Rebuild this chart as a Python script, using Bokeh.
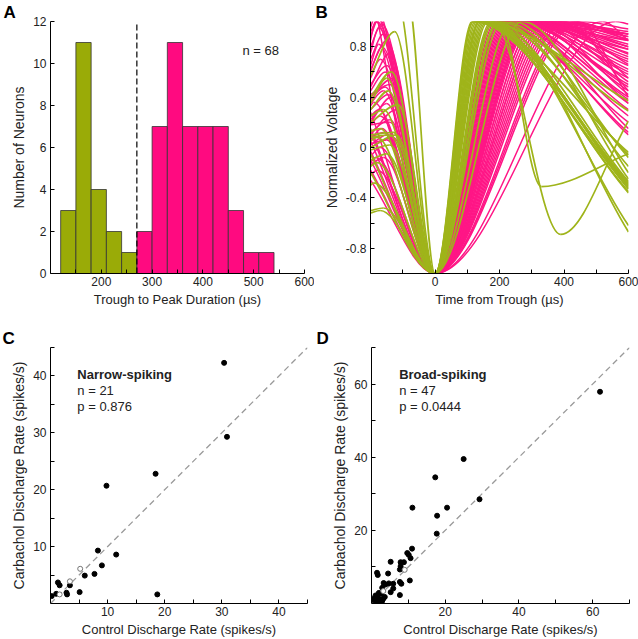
from bokeh.plotting import figure
from bokeh.models import FixedTicker, CustomJSTickFormatter, Label, ColumnDataSource
from bokeh.layouts import column, row
from bokeh.embed import file_html
from bokeh.resources import INLINE

# ---------------- Panel A: trough-to-peak duration histogram ----------------
narrow_bin_edges = [120, 150, 180, 210, 240, 270]
narrow_counts = [3, 11, 4, 2, 1]
broad_bin_edges = [270, 300, 330, 360, 390, 420, 450, 480, 510, 540]
broad_counts = [2, 7, 11, 7, 7, 7, 3, 1, 1]
cutoff_us = 270
n_total = 68

# ---------------- Panel B: normalized waveforms (key points) ----
T_START, T_END, TROUGH, PEAK = -200.0, 600.0, -1.0, 1.0

narrow_start_v = [-0.50, -0.52, -0.20, -0.10, -0.02, 0.10, 0.00, 0.20, 0.57, 0.35, 1.20,
                  1.20, 0.05, 0.13, -0.05, 0.25, -0.15, 0.08, 0.40, 0.30, -0.30]
narrow_knee_t = [-160, -170, -200, -150, -140, -130, -120, -115, -125, -150, -120,
                 -85, -180, -170, -200, -160, -180, -140, -135, -145, -190]
narrow_knee_v = [-0.48, -0.50, -0.20, -0.05, 0.02, 0.12, 0.10, 0.34, 0.92, 0.55, 1.20,
                 1.20, 0.08, 0.15, -0.05, 0.30, -0.12, 0.10, 0.60, 0.45, -0.28]
narrow_peak_t = [130, 150, 120, 140, 160, 125, 175, 145, 165, 185, 135,
                 115, 200, 180, 118, 138, 155, 195, 210, 240, 270]
narrow_dip_t = [None, None, None, None, None, None, None, None, None, None, None,
                None, 330, 390, None, None, None, None, None, None, None]
narrow_dip_v = [None, None, None, None, None, None, None, None, None, None, None,
                None, -0.31, -0.69, None, None, None, None, None, None, None]
narrow_end_v = [-0.30, -0.33, -0.35, -0.29, -0.27, -0.36, -0.06, -0.31, -0.62, -0.67, -0.28,
                -0.32, -0.05, 0.21, -0.04, 0.37, 0.29, -0.15, -0.08, -0.25, -0.20]

broad_start_v = [0.88, 0.80, 0.95, 0.70, 0.62, 0.55, 0.48, 0.45, 0.40, 0.35, 0.30, 0.28,
                 0.22, 0.18, 0.15, 0.12, 0.10, 0.08, 0.05, 0.02, 0.00, -0.03, -0.07, -0.10,
                 -0.14, -0.18, -0.22, -0.26, 1.10, 1.30, 0.92, 0.75, 0.60, 0.50, 0.42, 0.33,
                 0.25, 0.20, 0.12, 0.06, 0.03, -0.05, 0.65, 0.85, 0.38, 0.18, -0.12]
broad_knee_t = [-175, -165, -185, -160, -150, -170, -140, -155, -130, -160, -145, -200,
                -150, -170, -200, -140, -120, -160, -200, -150, -130, -200, -170, -200,
                -160, -200, -180, -200, -190, -200, -180, -175, -165, -150, -140, -190,
                -175, -135, -200, -165, -150, -200, -175, -185, -155, -140, -185]
broad_knee_v = [1.02, 0.98, 1.05, 0.90, 0.85, 0.70, 0.75, 0.60, 0.55, 0.45, 0.42, 0.28,
                0.35, 0.25, 0.15, 0.22, 0.30, 0.12, 0.05, 0.10, 0.08, -0.03, 0.00, -0.10,
                -0.08, -0.18, -0.18, -0.26, 1.15, 1.30, 1.00, 0.95, 0.80, 0.65, 0.50, 0.36,
                0.30, 0.40, 0.12, 0.15, 0.06, -0.05, 0.82, 1.00, 0.48, 0.20, -0.08]
broad_peak_t = [190, 200, 205, 210, 215, 220, 225, 230, 235, 240, 245, 250,
                255, 260, 265, 270, 275, 280, 285, 290, 295, 300, 305, 310,
                320, 330, 340, 350, 360, 370, 380, 390, 400, 410, 560, 430,
                440, 450, 520, 300, 240, 320, 280, 350, 200, 180, 260]
broad_end_v = [0.12, 0.85, 0.25, 0.30, 0.78, 0.35, 0.40, 0.90, 0.38, 0.50, 0.55, 0.48,
               0.60, 0.65, 0.58, 0.70, 0.62, 0.72, 0.75, 0.68, 0.78, 0.80, 0.74, 0.82,
               0.85, 0.88, 0.80, 0.90, 0.92, 0.86, 0.55, 0.90, 0.45, 0.88, 0.98, 0.85,
               0.40, 0.94, 0.85, 0.42, 0.15, 0.52, 0.35, 0.66, 0.10, 0.20, 0.45]
broad_dip_t = [None] * len(broad_peak_t)
broad_dip_v = [None] * len(broad_peak_t)

# ---------------- Panel C: narrow-spiking ----------------
narrow_ctrl = [30.4, 30.9, 18.4, 9.8, 8.3, 11.5, 9.0, 7.7, 6.0, 5.1, 3.4, 2.8, 2.9, 1.3, 1.6, 1.0, 0.2, 18.7]
narrow_carb = [42.3, 29.3, 22.8, 20.7, 9.3, 8.6, 6.7, 5.2, 4.9, 2.0, 3.2, 1.9, 1.6, 3.7, 3.2, 1.7, 1.3, 1.6]
narrow_open_ctrl = [5.2, 3.4, 1.6]
narrow_open_carb = [6.1, 3.9, 1.6]

# ---------------- Panel D: broad-spiking ----------------
broad_ctrl = [62.0, 25.0, 17.3, 29.3, 11.1, 20.5, 17.8, 17.7, 11.0, 9.7, 10.1, 10.6, 7.9, 8.8,
              5.2, 7.9, 1.5, 1.7, 4.5, 7.7, 10.4, 7.7, 8.1, 5.9, 4.7, 5.9, 3.3, 3.8, 2.9, 5.2,
              7.7, 2.0, 2.6, 1.1, 1.5, 0.2, 2.0, 2.6, 3.2, 1.5, 2.3, 2.9, 1.8, 3.6, 0.8]
broad_carb = [57.9, 39.5, 34.5, 28.5, 26.2, 26.2, 24.0, 19.1, 15.0, 13.8, 13.3, 12.4, 11.3, 11.3,
              11.4, 10.2, 8.4, 7.8, 8.2, 9.3, 6.3, 5.9, 5.4, 5.4, 5.5, 4.1, 5.6, 5.2, 4.3, 3.1,
              2.3, 2.9, 2.7, 2.2, 1.8, 1.3, 1.3, 1.1, 1.3, 0.6, 0.5, 0.7, 0.3, 1.8, 0.8]
broad_open_ctrl = [9.0, 3.2]
broad_open_carb = [9.2, 3.4]

# ---------------- styling ----------------
FONT = "Liberation Sans"
GREEN_BAR = "#9aab07"
PINK_BAR = "#ff0a80"
GREEN_LINE = "#9fb41a"
PINK_LINE = "#ff1686"
TXT = "#222222"


def style(p, xlabel, ylabel, xlab_standoff=3):
    p.outline_line_color = None
    p.grid.visible = False
    p.background_fill_color = "white"
    p.border_fill_color = "white"
    for ax in p.axis:
        ax.axis_line_color = "black"
        ax.axis_line_width = 1
        ax.major_tick_in = 4
        ax.major_tick_out = 0
        ax.minor_tick_in = 4
        ax.minor_tick_out = 0
        ax.major_tick_line_color = "black"
        ax.minor_tick_line_color = "black"
        ax.major_label_text_font = FONT
        ax.major_label_text_font_size = "12px"
        ax.major_label_text_color = TXT
        ax.axis_label_text_font = FONT
        ax.axis_label_text_font_style = "normal"
        ax.axis_label_text_color = TXT
    p.xaxis.axis_label = xlabel
    p.yaxis.axis_label = ylabel
    p.xaxis.axis_label_text_font_size = "13px"
    p.yaxis.axis_label_text_font_size = "14px"
    p.xaxis.major_label_standoff = 3
    p.xaxis.axis_label_standoff = xlab_standoff
    p.yaxis.major_label_standoff = 4
    p.yaxis.axis_label_standoff = 3


def panel_letter(p, text, offset):
    p.title.text = text
    p.title.align = "left"
    p.title.offset = offset
    p.title.standoff = 0
    p.title.text_font = FONT
    p.title.text_font_style = "bold"
    p.title.text_font_size = "17px"
    p.title.text_color = "black"
    p.title.text_line_height = 0.8


def add_text(p, x, y, text, bold=False):
    p.add_layout(Label(x=x, y=y, text=text, text_font=FONT, text_font_size="13px",
                       text_font_style="bold" if bold else "normal", text_color=TXT,
                       text_align="left", text_baseline="middle"))


def waveform_source(start_v, knee_t, knee_v, peak_t, dip_t, dip_v, end_v):
    cols = {k: [] for k in ("x0", "y0", "x1", "y1", "cx0", "cy0", "cx1", "cy1")}
    for i in range(len(peak_t)):
        pts = []
        if knee_t[i] > T_START:
            pts.append((T_START, start_v[i]))
        pts.append((float(knee_t[i]), knee_v[i]))
        pts.append((0.0, TROUGH))
        pts.append((float(peak_t[i]), PEAK))
        if dip_t[i] is not None:
            pts.append((float(dip_t[i]), dip_v[i]))
        pts.append((T_END, end_v[i]))
        n = len(pts)
        slopes = [0.0] * n
        slopes[0] = (pts[1][1] - pts[0][1]) / (pts[1][0] - pts[0][0])
        slopes[-1] = (pts[-1][1] - pts[-2][1]) / (pts[-1][0] - pts[-2][0])
        for j in range(n - 1):
            (ta, va), (tb, vb) = pts[j], pts[j + 1]
            d = (tb - ta) / 3.0
            cols["x0"].append(ta)
            cols["y0"].append(va)
            cols["x1"].append(tb)
            cols["y1"].append(vb)
            cols["cx0"].append(ta + d)
            cols["cy0"].append(va + slopes[j] * d)
            cols["cx1"].append(tb - d)
            cols["cy1"].append(vb - slopes[j + 1] * d)
    return ColumnDataSource(cols)


# ---------------- Panel A ----------------
pA = figure(width=314, height=320, x_range=(100, 600), y_range=(0, 12),
            output_backend="svg", toolbar_location=None,
            min_border_left=50, min_border_right=10, min_border_top=15, min_border_bottom=47)
pA.quad(left=narrow_bin_edges[:-1], right=narrow_bin_edges[1:], bottom=0, top=narrow_counts,
        fill_color=GREEN_BAR, line_color="#333333", line_width=0.8)
pA.quad(left=broad_bin_edges[:-1], right=broad_bin_edges[1:], bottom=0, top=broad_counts,
        fill_color=PINK_BAR, line_color="#333333", line_width=0.8)
pA.line(x=[cutoff_us, cutoff_us], y=[0, 12], line_color="black", line_width=1.2, line_dash="6 3")
style(pA, "Trough to Peak Duration (µs)", "Number of Neurons")
pA.xaxis.ticker = FixedTicker(ticks=[200, 300, 400, 500, 600], minor_ticks=[150, 250, 350, 450, 550])
pA.yaxis.ticker = FixedTicker(ticks=[0, 2, 4, 6, 8, 10, 12], minor_ticks=[])
add_text(pA, 478, 10.6, f"n = {n_total}")
panel_letter(pA, "A", -47)

# ---------------- Panel B ----------------
pB = figure(width=324, height=320, x_range=(-200, 600), y_range=(-1, 1),
            output_backend="svg", toolbar_location=None,
            min_border_left=56, min_border_right=10, min_border_top=15, min_border_bottom=47)
src_broad = waveform_source(broad_start_v, broad_knee_t, broad_knee_v, broad_peak_t,
                            broad_dip_t, broad_dip_v, broad_end_v)
src_narrow = waveform_source(narrow_start_v, narrow_knee_t, narrow_knee_v, narrow_peak_t,
                             narrow_dip_t, narrow_dip_v, narrow_end_v)
pB.bezier(x0="x0", y0="y0", x1="x1", y1="y1", cx0="cx0", cy0="cy0", cx1="cx1", cy1="cy1",
          source=src_broad, line_color=PINK_LINE, line_width=1.5)
pB.bezier(x0="x0", y0="y0", x1="x1", y1="y1", cx0="cx0", cy0="cy0", cx1="cx1", cy1="cy1",
          source=src_narrow, line_color=GREEN_LINE, line_width=1.7)
style(pB, "Time from Trough (µs)", "Normalized Voltage")
pB.xaxis.ticker = FixedTicker(ticks=[0, 200, 400, 600], minor_ticks=[-100, 100, 300, 500])
pB.yaxis.ticker = FixedTicker(ticks=[-0.8, -0.4, 0, 0.4, 0.8], minor_ticks=[-0.6, -0.2, 0.2, 0.6])
pB.yaxis.formatter = CustomJSTickFormatter(code="return Math.abs(tick) < 1e-9 ? '0' : tick.toFixed(1);")
panel_letter(pB, "B", -55)

# ---------------- Panel C ----------------
pC = figure(width=314, height=319, x_range=(0, 45), y_range=(0, 45),
            output_backend="svg", toolbar_location=None,
            min_border_left=50, min_border_right=7, min_border_top=27, min_border_bottom=35)
pC.line(x=[0, 45], y=[0, 45], line_color="#9a9a9a", line_width=1.3, line_dash="6 4")
pC.scatter(x=narrow_ctrl, y=narrow_carb, size=5, fill_color="black", line_color="black")
pC.scatter(x=narrow_open_ctrl, y=narrow_open_carb, size=5, fill_color="white", line_color="#777777")
style(pC, "Control Discharge Rate (spikes/s)", "Carbachol Discharge Rate (spikes/s)")
pC.xaxis.ticker = FixedTicker(ticks=[10, 20, 30, 40], minor_ticks=[5, 15, 25, 35, 45])
pC.yaxis.ticker = FixedTicker(ticks=[10, 20, 30, 40], minor_ticks=[5, 15, 25, 35, 45])
add_text(pC, 4.7, 40.3, "Narrow-spiking", bold=True)
add_text(pC, 4.7, 37.5, f"n = {len(narrow_ctrl) + len(narrow_open_ctrl)}")
add_text(pC, 4.7, 34.7, "p = 0.876")
panel_letter(pC, "C", -48)

# ---------------- Panel D ----------------
pD = figure(width=324, height=319, x_range=(0, 70), y_range=(0, 70),
            output_backend="svg", toolbar_location=None,
            min_border_left=57, min_border_right=9, min_border_top=27, min_border_bottom=35)
pD.line(x=[0, 70], y=[0, 70], line_color="#9a9a9a", line_width=1.3, line_dash="6 4")
pD.scatter(x=broad_ctrl, y=broad_carb, size=5, fill_color="black", line_color="black")
pD.scatter(x=broad_open_ctrl, y=broad_open_carb, size=5, fill_color="white", line_color="#777777")
style(pD, "Control Discharge Rate (spikes/s)", "Carbachol Discharge Rate (spikes/s)")
pD.xaxis.ticker = FixedTicker(ticks=[20, 40, 60], minor_ticks=[10, 30, 50, 70])
pD.yaxis.ticker = FixedTicker(ticks=[20, 40, 60], minor_ticks=[10, 30, 50, 70])
add_text(pD, 7.5, 62.6, "Broad-spiking", bold=True)
add_text(pD, 7.5, 58.3, f"n = {len(broad_ctrl) + len(broad_open_ctrl)}")
add_text(pD, 7.5, 53.9, "p = 0.0444")
panel_letter(pD, "D", -55)

layout = column(row(pA, pB), row(pC, pD))
open("out.html", "w").write(file_html(layout, INLINE))
